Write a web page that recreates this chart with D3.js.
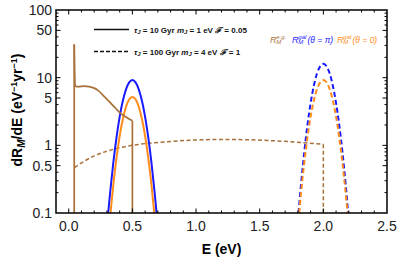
<!DOCTYPE html>
<html><head><meta charset="utf-8">
<script src="https://cdn.jsdelivr.net/npm/d3@7"></script>
<style>body{margin:0;background:#fff}svg{display:block}text{font-family:"Liberation Sans",Arial,sans-serif}</style>
</head><body>
<svg id="c" width="399" height="260"></svg>
<script>
// ---- data ----
const xTicks = [0.0, 0.5, 1.0, 1.5, 2.0, 2.5];
const xTickLabels = ["0.0", "0.5", "1.0", "1.5", "2.0", "2.5"];
const yTicks = [0.1, 0.5, 1, 5, 10, 50, 100];
const yTickLabels = ["0.1", "0.5", "1", "5", "10", "50", "100"];

// e.g. (brown), tau=10 Gyr, solid
const egSolidE = [0.043, 0.043, 0.05, 0.06, 0.08, 0.12, 0.16, 0.2, 0.23, 0.28, 0.33, 0.37, 0.41, 0.45, 0.5, 0.5];
const egSolidV = [0.1, 31, 7.8, 7.35, 7.35, 7.5, 7.36, 7.0, 6.5, 5.25, 4.2, 3.5, 2.95, 2.62, 2.3, 0.1];
// e.g. (brown), tau=100 Gyr, dashed
const egDashE = [0.045, 0.08, 0.12, 0.2, 0.3, 0.4, 0.5, 0.6, 0.8, 1.0, 1.2, 1.4, 1.6, 1.8, 2.0, 2.0];
const egDashV = [0.47, 0.52, 0.58, 0.7, 0.82, 0.92, 1.0, 1.06, 1.14, 1.2, 1.22, 1.21, 1.17, 1.11, 1.04, 0.1];
// gal theta=pi (blue), solid
const galPiSolidE = [0.31, 0.325, 0.35, 0.375, 0.4, 0.425, 0.45, 0.475, 0.5, 0.525, 0.55, 0.575, 0.6, 0.625, 0.65, 0.675, 0.69];
const galPiSolidV = [0.1, 0.199, 0.55, 1.3, 2.63, 4.55, 6.73, 8.51, 9.2, 8.51, 6.73, 4.55, 2.63, 1.3, 0.55, 0.199, 0.1];
// gal theta=0 (orange), solid
const gal0SolidE = [0.328, 0.35, 0.375, 0.4, 0.425, 0.45, 0.475, 0.5, 0.525, 0.55, 0.575, 0.6, 0.625, 0.65, 0.672];
const gal0SolidV = [0.1, 0.258, 0.645, 1.37, 2.45, 3.72, 4.79, 5.2, 4.79, 3.72, 2.45, 1.37, 0.645, 0.258, 0.1];
// gal theta=pi (blue), dashed
const galPiDashE = [1.805, 1.825, 1.85, 1.875, 1.9, 1.925, 1.95, 1.975, 2.0, 2.025, 2.05, 2.075, 2.1, 2.125, 2.15, 2.175, 2.195];
const galPiDashV = [0.1, 0.27, 0.79, 1.99, 4.2, 7.55, 11.5, 14.7, 16.0, 14.7, 11.5, 7.55, 4.2, 1.99, 0.79, 0.27, 0.1];
// gal theta=0 (orange), dashed
const gal0DashE = [1.81, 1.825, 1.85, 1.875, 1.9, 1.925, 1.95, 1.975, 2.0, 2.025, 2.05, 2.075, 2.1, 2.125, 2.15, 2.175, 2.19];
const gal0DashV = [0.1, 0.199, 0.55, 1.3, 2.63, 4.55, 6.73, 8.51, 9.2, 8.51, 6.73, 4.55, 2.63, 1.3, 0.55, 0.199, 0.1];

// ---- drawing ----
const L = 56, R = 387, T = 10, B = 213;
const svg = d3.select("#c");
const x = d3.scaleLinear().domain([-0.1, 2.5]).range([L, R]);
const y = d3.scaleLog().domain([0.1, 100]).range([B, T]);

const BROWN = "#a8713a", BLUE = "#1a1aff", ORANGE = "#ff8c1a";

svg.append("clipPath").attr("id", "clip").append("rect")
  .attr("x", L).attr("y", T).attr("width", R - L).attr("height", B - T);
const g = svg.append("g").attr("clip-path", "url(#clip)");

const zip = (E, V) => E.map((e, i) => [e, V[i]]);
const lineLin = d3.line().x(d => x(d[0])).y(d => y(d[1]));
const lineSm = d3.line().x(d => x(d[0])).y(d => y(d[1])).curve(d3.curveMonotoneX);

function drawSplit(E, V, color, w, dash, verticalStart) {
  const pts = zip(E, V);
  // split vertical segments (repeated E) from smooth interior
  let s = 0, e = pts.length;
  const segs = [];
  if (verticalStart && pts[0][0] === pts[1][0]) { segs.push(pts.slice(0, 2)); s = 1; }
  if (pts[e - 1][0] === pts[e - 2][0]) { segs.push(pts.slice(e - 2)); e = e - 1; }
  const body = pts.slice(s, e);
  const p = g.append("path").attr("d", lineSm(body)).attr("fill", "none")
    .attr("stroke", color).attr("stroke-width", w);
  if (dash) p.attr("stroke-dasharray", dash);
  segs.forEach(sg => {
    const q = g.append("path").attr("d", lineLin(sg)).attr("fill", "none")
      .attr("stroke", color).attr("stroke-width", w);
    if (dash) q.attr("stroke-dasharray", dash);
  });
}

function drawSmooth(E, V, color, w, dash) {
  const p = g.append("path").attr("d", lineSm(zip(E, V))).attr("fill", "none")
    .attr("stroke", color).attr("stroke-width", w);
  if (dash) p.attr("stroke-dasharray", dash);
}

drawSplit(egDashE, egDashV, BROWN, 1.5, "4,2.5", false);
drawSmooth(galPiSolidE, galPiSolidV, BLUE, 2);
drawSmooth(gal0SolidE, gal0SolidV, ORANGE, 2);
drawSmooth(galPiDashE, galPiDashV, BLUE, 2, "5,3");
drawSmooth(gal0DashE, gal0DashV, ORANGE, 2, "5,3");
drawSplit(egSolidE, egSolidV, BROWN, 1.7, null, true);

// frame
svg.append("rect").attr("x", L).attr("y", T).attr("width", R - L).attr("height", B - T)
  .attr("fill", "none").attr("stroke", "#000").attr("stroke-width", 1.5);

// x ticks (inward, bottom and top)
const ax = svg.append("g").attr("stroke", "#000").attr("stroke-width", 1);
const xMinor = d3.range(-1, 26).map(i => i / 10);
xMinor.forEach(v => {
  const major = Math.abs(v * 2 - Math.round(v * 2)) < 1e-6;
  const len = major ? 4.5 : 2.5;
  const px = x(v);
  if (px <= L + 0.5 || px >= R - 0.5) return;
  ax.append("line").attr("x1", px).attr("x2", px).attr("y1", B).attr("y2", B - len);
  ax.append("line").attr("x1", px).attr("x2", px).attr("y1", T).attr("y2", T + len);
});
// y ticks
const yAll = [];
[0.1, 1, 10].forEach(d => { for (let k = 1; k <= 9; k++) yAll.push(d * k); });
yAll.push(100);
yAll.forEach(v => {
  const major = yTicks.some(t => Math.abs(t - v) < 1e-9);
  const len = major ? 4.5 : 2.5;
  const py = y(v);
  if (py >= B - 0.5 || py <= T + 0.5) return;
  ax.append("line").attr("x1", L).attr("x2", L + len).attr("y1", py).attr("y2", py);
  ax.append("line").attr("x1", R).attr("x2", R - len).attr("y1", py).attr("y2", py);
});

// tick labels
xTicks.forEach((v, i) => {
  svg.append("text").attr("x", x(v)).attr("y", B + 18).attr("text-anchor", "middle")
    .attr("font-size", 14).attr("fill", "#222").text(xTickLabels[i]);
});
yTicks.forEach((v, i) => {
  svg.append("text").attr("x", L - 4).attr("y", y(v) + 5).attr("text-anchor", "end")
    .attr("font-size", 14).attr("fill", "#222").text(yTickLabels[i]);
});

// axis labels
svg.append("text").attr("x", (L + R) / 2).attr("y", 254).attr("text-anchor", "middle")
  .attr("font-size", 14).attr("font-weight", "bold").text("E (eV)");
const yl = svg.append("text").attr("transform", "translate(22,110) rotate(-90)")
  .attr("text-anchor", "middle").attr("font-size", 14).attr("font-weight", "bold");
yl.append("tspan").text("dR");
yl.append("tspan").attr("font-size", 10).attr("font-style", "italic").attr("dy", 3).text("M");
yl.append("tspan").attr("dy", -3).text("/dE (eV");
yl.append("tspan").attr("font-size", 9).attr("dy", -5).text("−1");
yl.append("tspan").attr("dy", 5).text("yr");
yl.append("tspan").attr("font-size", 9).attr("dy", -5).text("−1");
yl.append("tspan").attr("dy", 5).text(")");

// line-style legend
const lg = svg.append("g");
lg.append("line").attr("x1", 94).attr("x2", 129).attr("y1", 29.5).attr("y2", 29.5)
  .attr("stroke", "#111").attr("stroke-width", 1.6);
lg.append("line").attr("x1", 94).attr("x2", 129).attr("y1", 51.5).attr("y2", 51.5)
  .attr("stroke", "#111").attr("stroke-width", 1.6).attr("stroke-dasharray", "4,2");
function legText(yy, tau, m, F) {
  const t = lg.append("text").attr("x", 134).attr("y", yy).attr("font-size", 8)
    .attr("font-weight", "bold").attr("fill", "#111");
  t.append("tspan").attr("font-style", "italic").text("τ");
  t.append("tspan").attr("font-size", 6).attr("font-style", "italic").attr("dy", 1.5).text("J");
  t.append("tspan").attr("dy", -1.5).text(" = " + tau + " Gyr  ");
  t.append("tspan").attr("font-style", "italic").text("m");
  t.append("tspan").attr("font-size", 6).attr("font-style", "italic").attr("dy", 1.5).text("J");
  t.append("tspan").attr("dy", -1.5).text(" = " + m + " eV  ");
  t.append("tspan").attr("font-style", "italic").text("ℱ");
  t.append("tspan").text(" = " + F);
}
legText(32.5, "10", "1", "0.05");
legText(54.5, "100", "4", "1");

// colour legend
function rLabel(x0, y0, sup, color, tail) {
  const fs = 9;
  svg.append("text").attr("x", x0).attr("y", y0).attr("font-size", fs)
    .attr("font-style", "italic").attr("fill", color).text("R");
  svg.append("text").attr("x", x0 + 6.3).attr("y", y0 - 4).attr("font-size", 6)
    .attr("font-style", "italic").attr("fill", color).text(sup);
  svg.append("text").attr("x", x0 + 6.3).attr("y", y0 + 1.5).attr("font-size", 6)
    .attr("font-style", "italic").attr("fill", color).text("M");
  if (tail) svg.append("text").attr("x", x0 + 15.5).attr("y", y0).attr("font-size", 8.5)
    .attr("font-style", "italic").attr("fill", color).text(tail);
}
rLabel(270, 42.5, "e.g.", BROWN, null);
rLabel(292, 42.5, "gal", BLUE, "(θ = π)");
rLabel(337, 42.5, "gal", ORANGE, "(θ = 0)");
</script>
</body></html>
